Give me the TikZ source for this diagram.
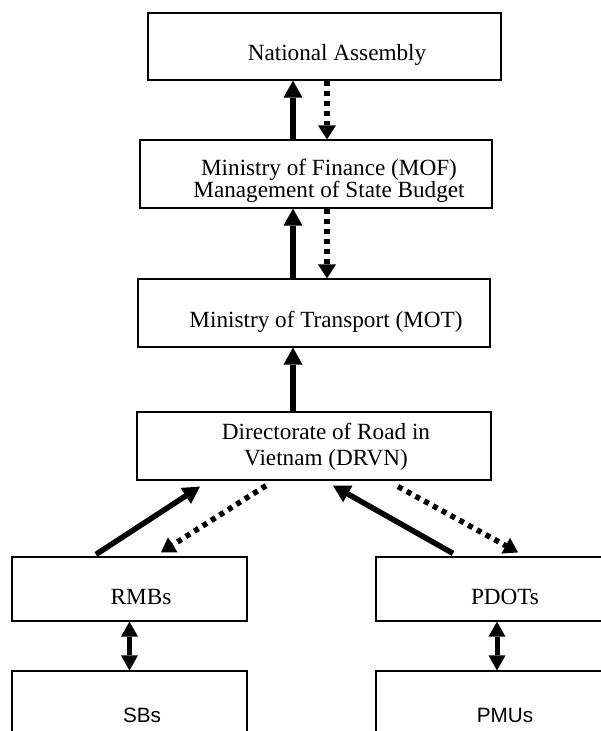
\documentclass[tikz,border=0pt]{standalone}
\usepackage{fontspec}
\setmainfont{Liberation Serif}
\newfontfamily\arialfont{Liberation Sans}
\usetikzlibrary{calc,arrows.meta,positioning}
\tikzset{
  box/.style={draw,line width=1.2pt,inner sep=0pt},
  txt/.style={font=\fontsize{23.2}{22}\selectfont,align=center,inner sep=0pt},
  stxt/.style={font=\arialfont\fontsize{20.7}{24}\selectfont,inner sep=0pt,anchor=base},
  ar/.style={-{Triangle[length=17pt,width=19pt,line width=0pt]},line width=5.5pt},
  dar/.style={-{Triangle[length=14pt,width=18pt,line width=0pt]},line width=5.5pt,dash pattern=on 5pt off 5pt},
  dbl/.style={{Triangle[length=15pt,width=17pt,line width=0pt]}-{Triangle[length=15pt,width=17pt,line width=0pt]},line width=5pt}
}

\begin{document}
\begin{tikzpicture}[x=1pt,y=-1pt]
\def\xa{293}\def\xb{327}
\useasboundingbox (0,0) rectangle (601,731);
\clip (0,0) rectangle (601,731);
% boxes
\node[box,minimum width=353pt,minimum height=67pt] (na) at (324.5,46.5) {};
\node[box,minimum width=352pt,minimum height=68pt] (mof) at (316,174) {};
\node[box,minimum width=352pt,minimum height=68pt] (mot) at (314,313) {};
\node[box,minimum width=354pt,minimum height=68pt] (drvn) at (314,446) {};
\node[box,minimum width=235pt,minimum height=64pt] (rmb) at (129.5,589) {};
\node[box,minimum width=242pt,minimum height=64pt] (pdot) at (497,589) {};
\node[box,minimum width=235pt,minimum height=64pt] (sb) at (129.5,703) {};
\node[box,minimum width=242pt,minimum height=64pt] (pmu) at (497,703) {};
% texts
\node[txt,anchor=base] (naText) at (337,60) {National Assembly};
\node[txt] (mofText) at (329,180.5) {Ministry of Finance (MOF)\\Management of State Budget};
\node[txt,anchor=base] (motText) at (326,327) {Ministry of Transport (MOT)};
\node[txt,font=\fontsize{23.2}{26}\selectfont] (drvnText) at (326,446.5) {Directorate of Road in\\Vietnam (DRVN)};
\node[txt,anchor=base] (rmbText) at (141,604) {RMBs};
\node[txt,anchor=base] (pdotText) at (505,604) {PDOTs};
\node[stxt] (sbText) at (142,722) {SBs};
\node[stxt] (pmuText) at (505,722) {PMUs};
% vertical arrows
\draw[ar] (mof.north -| \xa,0) -- (na.south -| \xa,0);
\draw[dar] (na.south -| \xb,0) -- (mof.north -| \xb,0);
\draw[ar] (mot.north -| \xa,0) -- (mof.south -| \xa,0);
\draw[dar] (mof.south -| \xb,0) -- (mot.north -| \xb,0);
\draw[ar] (drvn.north -| \xa,0) -- (mot.south -| \xa,0);
% diagonal arrows
\draw[ar] ($(rmb.north)+(-33.5,-2)$) -- ($(drvn.south)+(-114,6)$);
\draw[dar] ($(drvn.south)+(-48,5)$) -- ($(rmb.north)+(31.5,-4)$);
\draw[ar] ($(pdot.north)+(-44,-3)$) -- ($(drvn.south)+(19,5)$);
\draw[dar] ($(drvn.south)+(84,6)$) -- ($(pdot.north)+(21,-4)$);
% lower links
\draw[dbl] (rmb) -- (sb);
\draw[dbl] (pdot) -- (pmu);
\end{tikzpicture}
\end{document}
